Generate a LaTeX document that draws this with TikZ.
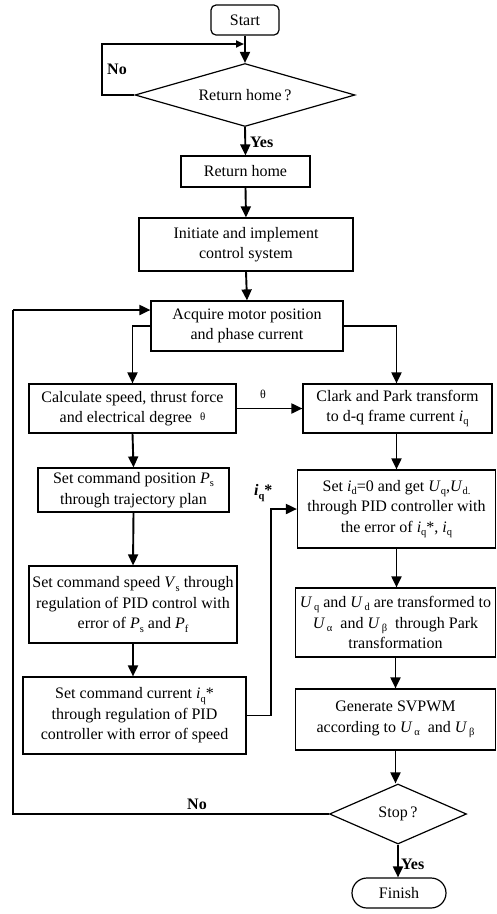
\documentclass[tikz,border=0pt]{standalone}
\usepackage{fontspec}
\setmainfont{Liberation Serif}
\usetikzlibrary{shapes.geometric,arrows.meta}
\newcommand{\vsb}[2]{\textit{#1}\raisebox{-0.45ex}{\fontsize{10.5}{10.5}\selectfont #2}}
\begin{document}
\begin{tikzpicture}[x=1pt,y=-1pt,
  txt/.style={font={\fontsize{16}{20.5}\selectfont}},
  box/.style={txt, draw, line width=1.2pt, inner sep=0pt, align=center},
  term/.style={box, rounded corners=5pt},
  dec/.style={txt, diamond, draw, line width=1.2pt, inner sep=0pt, aspect=3.5},
  conn/.style={line width=1.9pt, -{Triangle[length=11pt,width=10pt]}},
  smallconn/.style={line width=1.9pt, -{Triangle[length=8pt,width=7pt]}},
  thinline/.style={line width=1.1pt},
  lbl/.style={txt, inner sep=0pt, font={\fontsize{16}{20}\selectfont\bfseries}}]
\useasboundingbox (0,0) rectangle (497,914);

% nodes
\node[term, minimum width=68pt, minimum height=30pt] (start) at (245,20) {Start};
\node[dec, minimum width=220pt, minimum height=63pt] (rh) at (245,95) {Return home\,?};
\node[box, minimum width=129pt, minimum height=31pt] (rhbox) at (245.5,171.5) {Return home};
\node[box, minimum width=214pt, minimum height=53pt] (init) at (246,244.5) {Initiate and implement\\control system};
\node[box, minimum width=192pt, minimum height=50pt] (acq) at (247,326) {Acquire motor position\\and phase current};
\node[box, minimum width=207pt, minimum height=49pt] (calc) at (132.5,408.5) {Calculate speed, thrust force\\and electrical degree\ \ \raisebox{0.3ex}{\fontsize{11}{11}\selectfont θ}};
\node[box, minimum width=189pt, minimum height=49pt] (clark) at (397.5,408.5) {Clark and Park transform\\to d-q frame current \vsb{i}{q}};
\node[box, minimum width=191pt, minimum height=44pt] (pos) at (133.5,490) {Set command position \vsb{P}{s}\\through trajectory plan};
\node[box, minimum width=208pt, minimum height=77pt] (spd) at (133,604.5) {Set command speed \vsb{V}{s} through\\regulation of PID control with\\error of \vsb{P}{s} and \vsb{P}{f}};
\node[box, minimum width=223pt, minimum height=77pt] (cur) at (134.5,715.5) {Set command current \vsb{i}{q}*\\through regulation of PID\\controller with error of speed};
\node[box, minimum width=198pt, minimum height=78pt] (setid) at (396.5,509) {Set \vsb{i}{d}=0 and get \vsb{U}{q},\vsb{U}{d.}\\through PID controller with\\the error of \vsb{i}{q}*, \vsb{i}{q}};
\node[box, minimum width=200pt, minimum height=69pt] (uq) at (395.5,622.5) {\vsb{U}{\,q} and \vsb{U}{\,d} are transformed to\\\vsb{U}{\,α}\ \ and \vsb{U}{\,β}\ \ through Park\\transformation};
\node[box, minimum width=200pt, minimum height=61pt] (gen) at (395.5,719.5) {Generate SVPWM\\according to \vsb{U}{\,α}\ \ and \vsb{U}{\,β}};
\node[dec, minimum width=137pt, minimum height=60pt] (stop) at (398,814) {Stop\,?};
\node[box, rounded corners=15pt, minimum width=94pt, minimum height=30pt] (fin) at (399,893) {Finish};

% coordinates
\coordinate (nl) at (102,44);
\coordinate (iq) at (271,509);
\coordinate (fb) at (13,310);

% connectors
\draw[conn] (start.south) -- (rh.north);
\draw[smallconn] (rh.west) -| (nl) -- ([xshift=-1pt]start.south |- nl);
\draw[conn] (rh.south) -- (rhbox.north);
\draw[conn] (rhbox.south) -- (init.north);
\draw[conn] (init.south) -- (acq.north);
\draw[conn] (acq.west) -| (calc.north);
\draw[conn] (acq.east) -| ([xshift=-1pt]clark.north);
\draw[conn] (calc.east) -- (clark.west);
\draw[conn] (calc.south) -- (pos.north);
\draw[conn] ([xshift=-1pt]clark.south) -- ([xshift=-1pt]setid.north -| clark.south);
\draw[conn] (pos.south) -- (spd.north);
\draw[conn] (spd.south) -- (spd.south |- cur.north);
\draw[conn] (setid.south) -- (setid.south |- uq.north);
\draw[conn] (uq.south) -- (gen.north);
\draw[conn] (gen.south) -- (gen.south |- stop.north);
\draw[conn] (stop.south) -- (stop.south |- fin.north);
\draw[conn] (cur.east) -| (iq) -- (setid.west);
\draw[thinline] (stop.west) -| (fb);
\draw[conn] (fb) -- (fb -| acq.west);

% labels
\node[lbl] (lno1) at (117,69) {No};
\node[lbl, anchor=west] (lyes1) at (250,142) {Yes};
\node[txt, inner sep=0pt] (lth) at (263,394) {\fontsize{12}{12}\selectfont θ};
\node[lbl, anchor=west] (liq) at (254,493) {\textit{i}\raisebox{-0.45ex}{\fontsize{10.5}{10.5}\selectfont q}*};
\node[lbl] (lno2) at (197,804) {No};
\node[lbl, anchor=west] (lyes2) at (401,864) {Yes};
\end{tikzpicture}
\end{document}
